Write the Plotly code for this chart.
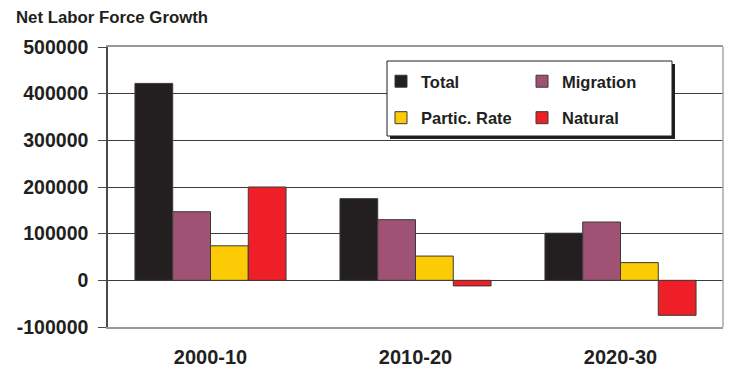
import plotly.graph_objects as go

# Net labor force growth by decade, split into its components
periods = ["2000-10", "2010-20", "2020-30"]
total = [422000, 175000, 101000]
migration = [147000, 130000, 125000]
partic_rate = [74000, 52000, 38000]
natural = [200000, -12000, -75000]

series_names = ["Total", "Migration", "Partic. Rate", "Natural"]
series_colors = ["#231f20", "#a05275", "#fccb06", "#ee1f27"]
# first column of the legend box holds Total / Partic. Rate, second holds the rest
legend_ids = ["legend", "legend2", "legend", "legend2"]

y_ticks = [-100000, 0, 100000, 200000, 300000, 400000, 500000]

W, H = 730, 370
L, R, T, B = 108, 7, 47, 43
plot_w = W - L - R
plot_h = H - T - B


def px_x(px):
    return (px - L) / plot_w


def px_y(py):
    return (H - B - py) / plot_h


FONT = "Liberation Sans, Arial, sans-serif"
INK = "#231f20"

fig = go.Figure()
for name, vals, color, lg in zip(series_names, [total, migration, partic_rate, natural],
                                 series_colors, legend_ids):
    fig.add_trace(go.Bar(
        x=periods, y=vals, name=name, legend=lg, legendgroup=name,
        marker=dict(color=color, line=dict(color="#3a3a3a", width=1)),
    ))

legend_common = dict(
    bgcolor="rgba(0,0,0,0)", borderwidth=0,
    font=dict(family=FONT, size=16.5, color=INK, weight="bold"),
    orientation="v", xanchor="left", yanchor="top",
    tracegroupgap=12, itemwidth=30,
)

fig.update_layout(
    width=W, height=H,
    margin=dict(l=L, r=R, t=T, b=B, autoexpand=False),
    paper_bgcolor="white", plot_bgcolor="white",
    barmode="group", bargap=0.263, bargroupgap=0,
    showlegend=True,
    legend=dict(x=px_x(381), y=px_y(64), **legend_common),
    legend2=dict(x=px_x(522), y=px_y(64), **legend_common),
    font=dict(family=FONT, color=INK),
    xaxis=dict(
        type="category", automargin=False,
        showgrid=False, ticks="", showline=True, mirror=True,
        linecolor="#9a9a9a", linewidth=1.5,
        tickfont=dict(family=FONT, size=20, color=INK, weight="bold"),
        ticklabelstandoff=11,
    ),
    yaxis=dict(
        automargin=False,
        range=[-100000, 500000], tickvals=y_ticks,
        ticktext=[str(v) for v in y_ticks],
        showgrid=True, gridcolor="#3c3c3c", gridwidth=1,
        zeroline=True, zerolinecolor="#3c3c3c", zerolinewidth=1,
        showline=True, linecolor="#4a4a4a", linewidth=1.5,
        ticks="outside", ticklen=8, tickcolor="#4a4a4a", tickwidth=1,
        tickfont=dict(family=FONT, size=19.5, color=INK, weight="bold"),
        ticklabelstandoff=6,
    ),
    annotations=[dict(
        text="Net Labor Force Growth", xref="paper", yref="paper",
        x=px_x(14), y=px_y(6), xanchor="left", yanchor="top", showarrow=False,
        font=dict(family=FONT, size=16.8, color=INK, weight="bold"),
    )],
    shapes=[
        # right frame edge
        dict(type="line", xref="paper", yref="paper", x0=1, x1=1, y0=0, y1=1,
             line=dict(color="#a8a8a8", width=1.5), layer="above"),
        # legend box drop shadow
        dict(type="rect", xref="paper", yref="paper",
             x0=px_x(390), x1=px_x(675), y0=px_y(139), y1=px_y(64),
             fillcolor="#231f20", line=dict(width=0), layer="above"),
        # legend box
        dict(type="rect", xref="paper", yref="paper",
             x0=px_x(387), x1=px_x(672), y0=px_y(136), y1=px_y(61),
             fillcolor="white", line=dict(color="#231f20", width=1), layer="above"),
    ],
)

fig.write_html("out.html")
